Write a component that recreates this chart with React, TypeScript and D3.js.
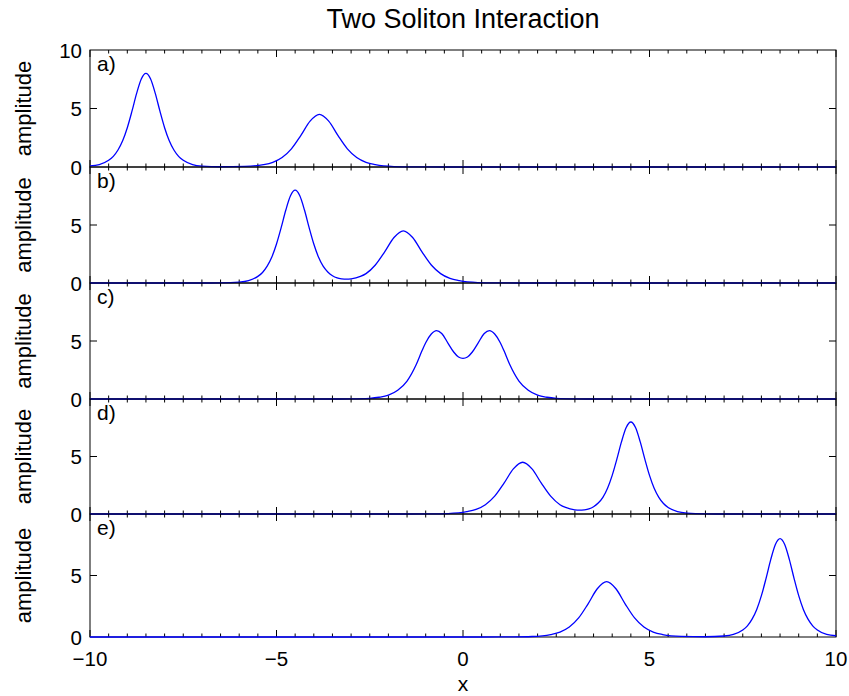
import React from 'react';
import * as d3 from 'd3';

// Soliton profiles, one per snapshot: [x, amplitude]
const waveA: [number, number][] = [
  [-10, 0.1], [-9.75, 0.21], [-9.5, 0.57], [-9.375, 0.91], [-9.25, 1.45], [-9.125, 2.24],
  [-9, 3.36], [-8.875, 4.77], [-8.75, 6.29], [-8.625, 7.52], [-8.5, 8.0], [-8.375, 7.52],
  [-8.25, 6.29], [-8.125, 4.77], [-8, 3.36], [-7.875, 2.24], [-7.75, 1.45], [-7.625, 0.91],
  [-7.5, 0.57], [-7.25, 0.21], [-7, 0.08], [-6.5, 0.02], [-5.85, 0.05], [-5.35, 0.2],
  [-5.1, 0.4], [-4.85, 0.81], [-4.6, 1.55], [-4.35, 2.68], [-4.1, 3.92], [-3.85, 4.5],
  [-3.6, 3.92], [-3.35, 2.68], [-3.1, 1.55], [-2.85, 0.81], [-2.6, 0.4], [-2.35, 0.2],
  [-1.85, 0.04], [-1.35, 0.01], [-0.5, 0], [10, 0],
];

const waveB: [number, number][] = [
  [-10, 0], [-7, 0], [-6.5, 0.01], [-6, 0.08], [-5.75, 0.21], [-5.5, 0.57], [-5.375, 0.91],
  [-5.25, 1.45], [-5.125, 2.24], [-5, 3.36], [-4.875, 4.77], [-4.75, 6.29], [-4.625, 7.52],
  [-4.5, 8.0], [-4.375, 7.52], [-4.25, 6.29], [-4.125, 4.77], [-4, 3.36], [-3.875, 2.24],
  [-3.75, 1.45], [-3.625, 0.95], [-3.5, 0.63], [-3.375, 0.44], [-3.25, 0.36], [-3.125, 0.33],
  [-3, 0.36], [-2.75, 0.57], [-2.6, 0.81], [-2.35, 1.55], [-2.1, 2.68], [-1.85, 3.92],
  [-1.6, 4.5], [-1.35, 3.92], [-1.1, 2.68], [-0.85, 1.55], [-0.6, 0.81], [-0.35, 0.4],
  [-0.1, 0.2], [0.4, 0.04], [0.9, 0.01], [1.5, 0], [10, 0],
];

const waveC: [number, number][] = [
  [-10, 0], [-3.5, 0], [-3, 0.01], [-2.5, 0.06], [-2.25, 0.15], [-2, 0.33], [-1.75, 0.75],
  [-1.5, 1.55], [-1.25, 3.0], [-1.1, 4.15], [-1, 4.85], [-0.85, 5.6], [-0.71, 5.9],
  [-0.57, 5.65], [-0.4, 4.8], [-0.25, 4.05], [-0.12, 3.62], [0, 3.5], [0.12, 3.62],
  [0.25, 4.05], [0.4, 4.8], [0.57, 5.65], [0.71, 5.9], [0.85, 5.6], [1, 4.85], [1.1, 4.15],
  [1.25, 3.0], [1.5, 1.55], [1.75, 0.75], [2, 0.33], [2.25, 0.15], [2.5, 0.06], [3, 0.01],
  [3.5, 0], [10, 0],
];

const waveD: [number, number][] = [
  [-10, 0], [-1.5, 0], [-0.9, 0.01], [-0.4, 0.04], [0.1, 0.2], [0.35, 0.4], [0.6, 0.81],
  [0.85, 1.55], [1.1, 2.68], [1.35, 3.92], [1.6, 4.5], [1.85, 3.92], [2.1, 2.68], [2.35, 1.55],
  [2.6, 0.81], [2.75, 0.57], [3, 0.36], [3.125, 0.33], [3.25, 0.36], [3.375, 0.44], [3.5, 0.63],
  [3.625, 0.95], [3.75, 1.45], [3.875, 2.24], [4, 3.36], [4.125, 4.77], [4.25, 6.29],
  [4.375, 7.52], [4.5, 8.0], [4.625, 7.52], [4.75, 6.29], [4.875, 4.77], [5, 3.36],
  [5.125, 2.24], [5.25, 1.45], [5.375, 0.91], [5.5, 0.57], [5.75, 0.21], [6, 0.08],
  [6.5, 0.01], [7, 0], [10, 0],
];

const waveE: [number, number][] = [
  [-10, 0], [0.5, 0], [1.35, 0.01], [1.85, 0.04], [2.35, 0.2], [2.6, 0.4], [2.85, 0.81],
  [3.1, 1.55], [3.35, 2.68], [3.6, 3.92], [3.85, 4.5], [4.1, 3.92], [4.35, 2.68], [4.6, 1.55],
  [4.85, 0.81], [5.1, 0.4], [5.35, 0.2], [5.85, 0.05], [6.5, 0.02], [7, 0.08], [7.25, 0.21],
  [7.5, 0.57], [7.625, 0.91], [7.75, 1.45], [7.875, 2.24], [8, 3.36], [8.125, 4.77],
  [8.25, 6.29], [8.375, 7.52], [8.5, 8.0], [8.625, 7.52], [8.75, 6.29], [8.875, 4.77],
  [9, 3.36], [9.125, 2.24], [9.25, 1.45], [9.375, 0.91], [9.5, 0.57], [9.75, 0.21], [10, 0.1],
];

const waves = [waveA, waveB, waveC, waveD, waveE];
const panelLabels = ['a)', 'b)', 'c)', 'd)', 'e)'];
const xTickLabels = [-10, -5, 0, 5, 10];
const yTickLabels = [0, 5, 10];

const W = 849;
const H = 696;
const plotLeft = 90;
const plotRight = 836;
const panelEdges = [50, 167, 283, 399, 514, 637];
const FONT = 'Liberation Sans, Arial, Helvetica, sans-serif';

const fmt = (v: number) => (v < 0 ? '\u2212' + Math.abs(v) : String(v));

export default function App() {
  const x = d3.scaleLinear().domain([-10, 10]).range([plotLeft, plotRight]);
  const minorTicks = x.ticks(40);

  return (
    <svg
      width={W}
      height={H}
      style={{ position: 'absolute', left: 0, top: 0, background: '#fff' }}
      fontFamily={FONT}
    >
      <rect x={0} y={0} width={W} height={H} fill="#fff" />
      <text x={(plotLeft + plotRight) / 2} y={28} fontSize={27} textAnchor="middle" fill="#000">
        Two Soliton Interaction
      </text>

      {waves.map((wave, i) => {
        const top = panelEdges[i];
        const bottom = panelEdges[i + 1];
        const y = d3.scaleLinear().domain([0, 10]).range([bottom, top]);
        const line = d3
          .line<[number, number]>()
          .x((d) => x(d[0]))
          .y((d) => y(d[1]))
          .curve(d3.curveMonotoneX);
        const labelTicks = i === 0 ? yTickLabels : yTickLabels.filter((v) => v < 10);
        return (
          <g key={i}>
            <rect
              x={plotLeft}
              y={top}
              width={plotRight - plotLeft}
              height={bottom - top}
              fill="none"
              stroke="#000"
              strokeWidth={1}
            />
            {minorTicks.map((t) => {
              const major = Math.abs(t % 5) < 1e-9;
              const len = major ? 7 : 3.5;
              return (
                <g key={t} stroke="#000" strokeWidth={1}>
                  <line x1={x(t)} x2={x(t)} y1={top} y2={top + len} />
                  <line x1={x(t)} x2={x(t)} y1={bottom} y2={bottom - len} />
                </g>
              );
            })}
            <g stroke="#000" strokeWidth={1}>
              <line x1={plotLeft} x2={plotLeft + 7} y1={y(5)} y2={y(5)} />
              <line x1={plotRight} x2={plotRight - 7} y1={y(5)} y2={y(5)} />
            </g>
            {labelTicks.map((v) => (
              <text key={v} x={82} y={y(v) + 7.5} fontSize={20.5} textAnchor="end" fill="#000">
                {v}
              </text>
            ))}
            <text
              transform={`translate(31,${(top + bottom) / 2}) rotate(-90)`}
              fontSize={22}
              textAnchor="middle"
              fill="#000"
            >
              amplitude
            </text>
            <text x={97} y={top + 21} fontSize={21} fill="#000">
              {panelLabels[i]}
            </text>
            <path d={line(wave) ?? ''} fill="none" stroke="#0000ff" strokeWidth={1.3} />
          </g>
        );
      })}

      {xTickLabels.map((v) => (
        <text key={v} x={x(v)} y={666} fontSize={20.5} textAnchor="middle" fill="#000">
          {fmt(v)}
        </text>
      ))}
      <text x={(plotLeft + plotRight) / 2} y={691} fontSize={21} textAnchor="middle" fill="#000">
        x
      </text>
    </svg>
  );
}
